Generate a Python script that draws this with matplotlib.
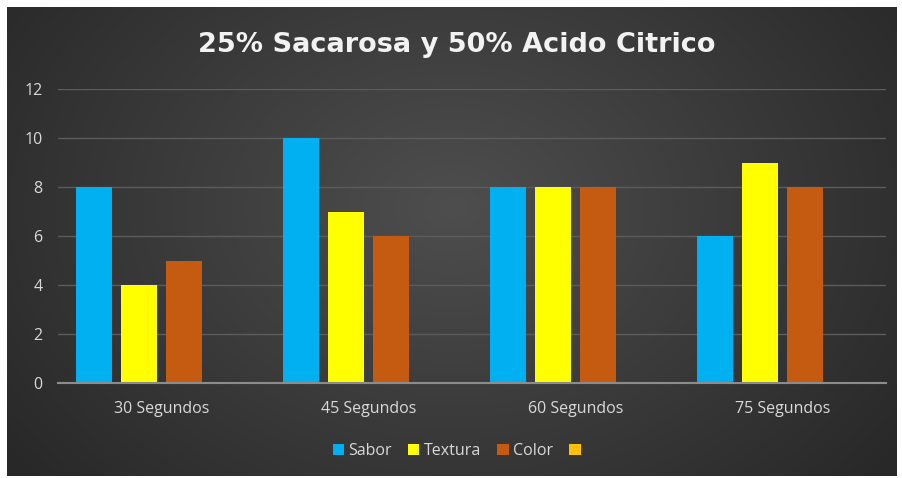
import numpy as np
import matplotlib
matplotlib.use("Agg")
import matplotlib.pyplot as plt
from matplotlib.patches import Patch

categories = ["30 Segundos", "45 Segundos", "60 Segundos", "75 Segundos"]
series_names = ["Sabor", "Textura", "Color", ""]
sabor = [8, 10, 8, 6]
textura = [4, 7, 8, 9]
color = [5, 6, 8, 8]
serie4 = [np.nan, np.nan, np.nan, np.nan]
series_values = [sabor, textura, color, serie4]
colors = ["#00B0F0", "#FFFF00", "#C55A11", "#FFC000"]
yticks = [0, 2, 4, 6, 8, 10, 12]

W, H = 902, 478
fig = plt.figure(figsize=(W / 100, H / 100), dpi=100)
fig.patch.set_facecolor("white")

# background radial gradient
bg = fig.add_axes([7 / W, 2 / H, 890 / W, 469 / H])
yy, xx = np.mgrid[0:469, 0:890]
cx, cy = 445, 200
r = np.sqrt(((xx - cx) / 560) ** 2 + ((yy - cy) / 420) ** 2)
r = np.clip(r, 0, 1)
inner = np.array([0x4e, 0x4e, 0x4e]) / 255
outer = np.array([0x28, 0x28, 0x28]) / 255
img = inner[None, None, :] * (1 - r[..., None]) + outer[None, None, :] * r[..., None]
bg.imshow(img, aspect="auto", extent=[0, 1, 0, 1])
bg.axis("off")

ax = fig.add_axes([58 / W, 1 - 383 / H, 828 / W, 294 / H])
ax.set_facecolor("none")
x = np.arange(len(categories))
step = 45 / 207
width = 36 / 207
for i, (vals, c, name) in enumerate(zip(series_values, colors, series_names)):
    ax.bar(x + (i - 1.5) * step, vals, width=width, color=c, label=name, zorder=3)

ax.set_xlim(-0.5, len(categories) - 0.5)
ax.set_ylim(0, 12)
ax.set_yticks(yticks)
ax.set_xticks(x)
ax.set_xticklabels(categories)
for s in ["top", "right", "left"]:
    ax.spines[s].set_visible(False)
ax.spines["bottom"].set_color("#8c8c8c")
ax.spines["bottom"].set_linewidth(1.5)
ax.spines["bottom"].set_zorder(4)
ax.grid(axis="y", color="#5c5c5c", linewidth=1, zorder=0)
ax.tick_params(axis="both", length=0, colors="#d9d9d9", labelsize=11.5)
ax.tick_params(axis="x", pad=13)
ax.tick_params(axis="y", pad=11)
for lab in ax.get_xticklabels() + ax.get_yticklabels():
    lab.set_fontfamily("Open Sans")

fig.text(457 / W, 1 - 45 / H, "25% Sacarosa y 50% Acido Citrico", ha="center", va="center",
         color="#f2f2f2", fontsize=19.5, fontweight="bold", family="DejaVu Sans")

handles = [Patch(facecolor=c) for c in colors]
leg = fig.legend(handles, series_names, loc="center", bbox_to_anchor=(459 / W, 1 - 451 / H),
                 ncol=4, frameon=False, handlelength=0.7, handleheight=0.7,
                 handletextpad=0.3, columnspacing=1.0, labelcolor="#d9d9d9",
                 prop={"family": "Open Sans", "size": 11.5})

fig.savefig("out.png", dpi=100, facecolor=fig.get_facecolor())
